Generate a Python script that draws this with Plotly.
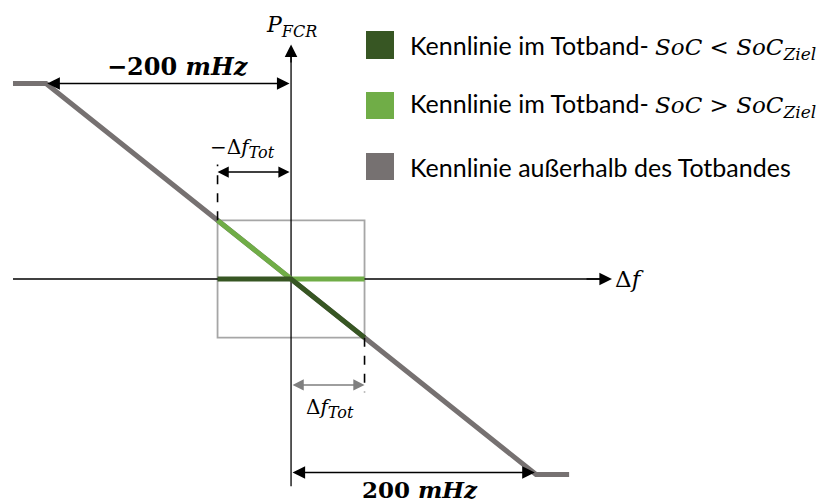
import plotly.graph_objects as go

# ---- data (schematic FCR droop characteristic) ----
F_LIMIT = 200          # mHz, full activation frequency deviation
F_EXT = 227            # mHz, extent of drawn characteristic
DEADBAND = 60          # mHz, schematic dead band half width
P_MAX = 1.0            # normalised power

gray_x = [-F_EXT, -F_LIMIT, F_LIMIT, F_EXT]
gray_y = [P_MAX, P_MAX, -P_MAX, -P_MAX]

light_x = [-DEADBAND, 0, DEADBAND]
light_y = [DEADBAND / F_LIMIT, 0, 0]

dark_x = [-DEADBAND, 0, DEADBAND]
dark_y = [0, 0, -DEADBAND / F_LIMIT]

MATH = "DejaVu Serif"


def m(s, size):
    return f"<span style=\"font-family:'{MATH}';font-size:{size}px\">{s}</span>"


def sub(s, size):
    return f"<sub><span style=\"font-size:{size}px\">{s}</span></sub>"


legend_labels = [
    "Kennlinie im Totband- " + m("<i>SoC</i> &lt; <i>SoC</i>" + sub("<i>Ziel</i>", 17), 23),
    "Kennlinie im Totband- " + m("<i>SoC</i> &gt; <i>SoC</i>" + sub("<i>Ziel</i>", 17), 23),
    "Kennlinie außerhalb des Totbandes",
]

C_DARK = "#375623"
C_LIGHT = "#70AD47"
C_GRAY = "#767171"
C_BOX = "#A6A6A6"

fig = go.Figure()

# characteristic lines
fig.add_trace(go.Scatter(x=gray_x, y=gray_y, mode="lines",
                         line=dict(color=C_GRAY, width=5), hoverinfo="skip"))
fig.add_trace(go.Scatter(x=light_x, y=light_y, mode="lines",
                         line=dict(color=C_LIGHT, width=5), hoverinfo="skip"))
fig.add_trace(go.Scatter(x=dark_x, y=dark_y, mode="lines",
                         line=dict(color=C_DARK, width=5), hoverinfo="skip"))

pb = DEADBAND / F_LIMIT
shapes = [
    # dead band box
    dict(type="rect", x0=-DEADBAND, x1=DEADBAND, y0=-pb, y1=pb, layer="below",
         line=dict(color=C_BOX, width=1.8)),
    # axes
    dict(type="line", x0=-F_EXT, x1=258, y0=0, y1=0, layer="below",
         line=dict(color="black", width=1.3)),
    dict(type="line", x0=0, x1=0, y0=-1.06, y1=1.18, layer="below",
         line=dict(color="black", width=1.3)),
    # dashed guides
    dict(type="line", x0=-DEADBAND, x1=-DEADBAND, y0=pb, y1=0.585,
         line=dict(color="black", width=1.6, dash="dash")),
    dict(type="line", x0=DEADBAND, x1=DEADBAND, y0=-pb, y1=-0.58,
         line=dict(color="black", width=1.6, dash="dash")),
]

# legend squares (paper coords)
sq = [(31, 59), (92, 119), (153, 180)]
sq_cols = [C_DARK, C_LIGHT, C_GRAY]
for (t, b), c in zip(sq, sq_cols):
    shapes.append(dict(type="rect", xref="paper", yref="paper",
                       x0=366 / 825, x1=394 / 825, y0=1 - b / 504, y1=1 - t / 504,
                       fillcolor=c, line=dict(width=0)))

ann = []


def arrow(x, y, ax, ay, color="black", both=False, size=1.8, width=1.4):
    d = dict(x=x, y=y, ax=ax, ay=ay, xref="x", yref="y", axref="x", ayref="y",
             text="", showarrow=True, arrowhead=2, arrowsize=size, arrowwidth=width,
             arrowcolor=color, standoff=0, startstandoff=0)
    if both:
        d.update(arrowside="end+start", startarrowhead=2, startarrowsize=size)
    ann.append(d)


# axis arrowheads
arrow(262, 0, 240, 0)
arrow(0, 1.2, 0, 1.1)
# dimension arrows
arrow(-F_LIMIT + 1, P_MAX, 0, P_MAX, both=True)
arrow(F_LIMIT - 1, -0.99, 0, -0.99, both=True)
arrow(-DEADBAND, 0.547, 0, 0.547, both=True, size=1.6)
arrow(DEADBAND, -0.542, 0, -0.542, color="#7F7F7F", both=True, size=1.6)


# labels
def label(x, y, text, size, family=MATH, color="black"):
    ann.append(dict(x=x, y=y, xref="x", yref="y", text=text, showarrow=False,
                    font=dict(family=family, size=size, color=color)))


label(-92, 1.085, "<b>−200 <i>mHz</i></b>", 24)
label(105, -1.075, "<b>200 <i>mHz</i></b>", 23)
label(0, 1.29, "<i>P</i>" + sub("<i>FCR</i>", 16), 22)
label(276, 0, "Δ<i>f</i>", 23)
label(-40, 0.665, "−Δ<i>f</i>" + sub("<i>Tot</i>", 16), 20)
label(32, -0.66, "Δ<i>f</i>" + sub("<i>Tot</i>", 16), 20)

# legend labels
for txt, yy in zip(legend_labels, [47, 105, 167]):
    ann.append(dict(x=408 / 825, y=1 - yy / 504, xref="paper", yref="paper",
                    xanchor="left", yanchor="middle", text=txt, showarrow=False,
                    font=dict(family="Lato", size=25, color="black")))

fig.update_layout(
    width=825, height=504,
    margin=dict(l=0, r=0, t=0, b=0),
    paper_bgcolor="white", plot_bgcolor="white",
    showlegend=False,
    xaxis=dict(range=[-237.6, 435.9], visible=False, fixedrange=True),
    yaxis=dict(range=[-1.151, 1.427], visible=False, fixedrange=True),
    shapes=shapes, annotations=ann,
)

fig.write_html("out.html")
